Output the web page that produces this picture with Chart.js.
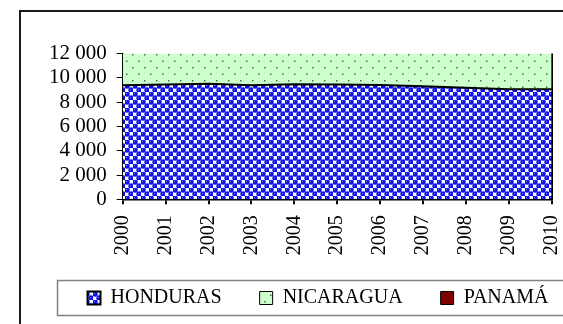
<!DOCTYPE html>
<html>
<head>
<meta charset="utf-8">
<script src="https://cdn.jsdelivr.net/npm/chart.js@4"></script>
<style>
html, body { margin: 0; padding: 0; background: #fff; overflow: hidden; width: 563px; height: 324px; }
#frame { position: absolute; left: 19px; top: 10px; width: 590px; height: 312px; border: 2px solid #1a1a1a; background: #fff; }
#chart { display: block; }
</style>
</head>
<body>
<div id="frame"><canvas id="chart" width="590" height="312"></canvas></div>
<script>
const years = ['2000', '2001', '2002', '2003', '2004', '2005', '2006', '2007', '2008', '2009', '2010'];
const honduras = [9380, 9450, 9520, 9390, 9470, 9450, 9400, 9300, 9190, 9050, 9050];
const nicaragua = [5100, 5200, 5250, 5300, 5400, 5450, 5500, 5600, 5700, 5800, 5900];
const panama = [3000, 3050, 3100, 3150, 3200, 3250, 3300, 3350, 3400, 3450, 3500];

const serif = "'Liberation Serif', 'Times New Roman', serif";

// blue "balls" checkerboard like the old Excel fill
function ballPattern() {
    const c = document.createElement('canvas');
    c.width = 8; c.height = 8;
    const g = c.getContext('2d');
    g.fillStyle = '#ffffff';
    g.fillRect(0, 0, 8, 8);
    g.fillStyle = '#0d0df2';
    g.fillRect(0, 0, 4, 4);
    g.fillRect(4, 4, 4, 4);
    [[2, 2], [6, 6]].forEach(([x, y]) => {
        g.beginPath();
        g.arc(x, y, 2.7, 0, Math.PI * 2);
        g.fill();
    });
    g.fillStyle = '#8c8cff';
    g.fillRect(1, 1, 1, 1);
    g.fillRect(5, 5, 1, 1);
    return g.createPattern(c, 'repeat');
}

function dotPattern() {
    const c = document.createElement('canvas');
    c.width = 12; c.height = 13;
    const g = c.getContext('2d');
    g.fillStyle = '#ccffcc';
    g.fillRect(0, 0, 12, 13);
    g.fillStyle = '#4f6f4f';
    g.fillRect(3, 3, 1.5, 1.5);
    g.fillRect(9, 9.5, 1.5, 1.5);
    return g.createPattern(c, 'repeat');
}

const spaced = v => String(v).replace(/\B(?=(\d{3})+(?!\d))/g, ' ');

// the rotated year labels hang below the (short) x axis box, so don't clip them
const noLabelClip = {
    id: 'noLabelClip',
    afterLayout(chart) {
        chart.scales.x._computeLabelArea = () => undefined;
    }
};

// box round the legend, like the reference
const legendFrame = {
    id: 'legendFrame',
    afterDraw(chart) {
        const boxes = chart.legend && chart.legend.legendHitBoxes;
        if (!boxes || !boxes.length) return;
        const first = boxes[0];
        const last = boxes[boxes.length - 1];
        const mid = first.top + first.height / 2;
        const ctx = chart.ctx;
        ctx.save();
        ctx.strokeStyle = '#808080';
        ctx.lineWidth = 1.5;
        ctx.strokeRect(first.left - 30, mid - 17.5, last.left + last.width + 60 - first.left, 35);
        ctx.restore();
    }
};

new Chart(document.getElementById('chart'), {
    type: 'line',
    data: {
        labels: years,
        datasets: [{
            label: 'HONDURAS',
            data: honduras,
            backgroundColor: ballPattern(),
            borderColor: '#000',
            borderWidth: 2,
            fill: 'origin'
        }, {
            label: 'NICARAGUA',
            data: nicaragua,
            backgroundColor: dotPattern(),
            borderColor: '#000',
            borderWidth: 1,
            fill: '-1'
        }, {
            label: 'PANAMÁ',
            data: panama,
            backgroundColor: '#800000',
            borderColor: '#000',
            borderWidth: 1,
            fill: '-1'
        }]
    },
    options: {
        responsive: false,
        animation: false,
        elements: { point: { radius: 0 }, line: { tension: 0 } },
        layout: { padding: { top: 41.5, left: 14, right: 10, bottom: 6 } },
        scales: {
            x: {
                z: 1,
                offset: false,
                grid: {
                    drawOnChartArea: true,
                    color: c => c.index === years.length - 1 ? '#000' : 'rgba(0,0,0,0)',
                    lineWidth: 2,
                    tickColor: '#000',
                    tickLength: 5
                },
                border: { color: '#000', width: 1.5 },
                ticks: {
                    color: '#000',
                    font: { family: serif, size: 20 },
                    minRotation: 90,
                    maxRotation: 90,
                    padding: 11,
                    autoSkip: false
                },
                afterFit: s => { s.height = 50.7; }
            },
            y: {
                z: 1,
                stacked: true,
                min: 0,
                max: 12000,
                grid: { drawOnChartArea: false, tickColor: '#000', tickLength: 6 },
                border: { color: '#000', width: 1.5 },
                ticks: {
                    stepSize: 2000,
                    autoSkip: false,
                    color: '#000',
                    padding: 10,
                    font: { family: serif, size: 21 },
                    callback: v => spaced(v)
                },
                afterFit: s => { s.width = 87.7; }
            },
            yRight: {
                position: 'right',
                display: true,
                grid: { display: false },
                border: { display: false },
                ticks: { display: false },
                afterFit: s => { s.width = 49.3; }
            }
        },
        plugins: {
            legend: {
                position: 'bottom',
                labels: {
                    color: '#000',
                    font: { family: serif, size: 20 },
                    boxWidth: 13,
                    boxHeight: 13,
                    padding: 38
                }
            },
            tooltip: { enabled: false }
        }
    },
    plugins: [noLabelClip, legendFrame]
});
</script>
</body>
</html>
